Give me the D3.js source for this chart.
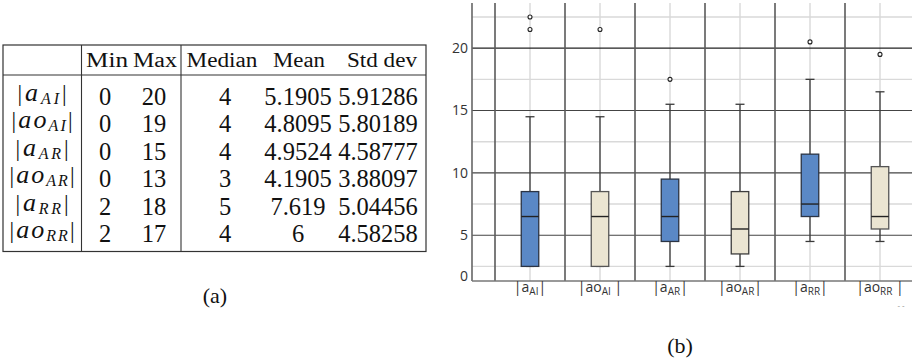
<!DOCTYPE html>
<html>
<head>
<meta charset="utf-8">
<script src="https://cdn.jsdelivr.net/npm/d3@7"></script>
<style>
  body { margin: 0; background: #fff; }
  svg { display: block; }
</style>
</head>
<body>
<svg id="fig" width="912" height="361"></svg>
<script>
// ---------- (a) summary table ----------
const rowMain = ["a", "ao", "a", "ao", "a", "ao"];
const rowSub = ["AI", "AI", "AR", "AR", "RR", "RR"];
const colHeaders = ["Min", "Max", "Median", "Mean", "Std dev"];
const minVals = ["0", "0", "0", "0", "2", "2"];
const maxVals = ["20", "19", "15", "13", "18", "17"];
const medianVals = ["4", "4", "4", "3", "5", "4"];
const meanVals = ["5.1905", "4.8095", "4.9524", "4.1905", "7.619", "6"];
const stdVals = ["5.91286", "5.80189", "4.58777", "3.88097", "5.04456", "4.58258"];

// ---------- (b) box plot ----------
const categories = ["aAI", "aoAI", "aAR", "aoAR", "aRR", "aoRR"];
const labelMain = ["a", "ao", "a", "ao", "a", "ao"];
const labelSub = ["AI", "AI", "AR", "AR", "RR", "RR"];
const labelTail = ["|", " |", "|", "|", "|", " |"];
const whiskerLow = [2.5, 2.5, 2.5, 2.5, 4.5, 4.5];
const q1 = [2.5, 2.5, 4.5, 3.5, 6.5, 5.5];
const median = [6.5, 6.5, 6.5, 5.5, 7.5, 6.5];
const q3 = [8.5, 8.5, 9.5, 8.5, 11.5, 10.5];
const whiskerHigh = [14.5, 14.5, 15.5, 15.5, 17.5, 16.5];
const outliers = [[22.5, 21.5], [21.5], [17.5], [], [20.5], [19.5]];
const yTickLabels = ["0", "5", "10", "15", "20"];
const majorGrid = [5, 10, 15, 20];
const minorGrid = [2.5, 7.5, 12.5, 17.5, 22.5];

const svg = d3.select("#fig");

// ===== table =====
const serif = "Liberation Serif, Times New Roman, serif";
const tbl = svg.append("g").attr("font-family", serif).attr("fill", "#111");
const T = { left: 3, right: 426, top: 45, headLine: 75, bottom: 251.5, sep1: 81.5, sep2: 181 };

const lineCol = "#333";
tbl.append("rect")
  .attr("x", T.left).attr("y", T.top)
  .attr("width", T.right - T.left).attr("height", T.bottom - T.top)
  .attr("fill", "none").attr("stroke", lineCol).attr("stroke-width", 1.2);
tbl.append("line").attr("x1", T.left).attr("x2", T.right).attr("y1", T.headLine).attr("y2", T.headLine)
  .attr("stroke", lineCol).attr("stroke-width", 1.1);
[T.sep1, T.sep2].forEach(x => tbl.append("line")
  .attr("x1", x).attr("x2", x).attr("y1", T.top).attr("y2", T.bottom)
  .attr("stroke", lineCol).attr("stroke-width", 1.1));

// header
const headX = [107, 155, 222, 299, 382];
const headW = [42, 44, 71, 52, 70];
tbl.selectAll("text.head").data(colHeaders).join("text")
  .attr("class", "head")
  .attr("x", (d, i) => headX[i]).attr("y", 66.5)
  .attr("text-anchor", "middle")
  .attr("font-size", 20.5)
  .attr("textLength", (d, i) => headW[i])
  .attr("lengthAdjust", "spacingAndGlyphs")
  .text(d => d);

// body cells
const rowY = d3.scalePoint().domain(d3.range(rowMain.length)).range([105, 242]);
const colX = [105, 154, 225, 298, 378];
const cols = [minVals, maxVals, medianVals, meanVals, stdVals];
cols.forEach((vals, c) => {
  tbl.selectAll("text.c" + c).data(vals).join("text")
    .attr("class", "c" + c)
    .attr("x", colX[c]).attr("y", (d, i) => rowY(i))
    .attr("text-anchor", "middle")
    .attr("font-size", 24.5)
    .text(d => d);
});

// row labels |a_AI| etc.
const rowLabelW = [49, 61, 53, 65, 53, 65];
rowMain.forEach((m, i) => {
  const t = tbl.append("text")
    .attr("x", 42).attr("y", rowY(i) - 4)
    .attr("text-anchor", "middle")
    .attr("textLength", rowLabelW[i])
    .attr("lengthAdjust", "spacing");
  t.append("tspan").attr("font-size", 23).text("|");
  t.append("tspan").attr("font-size", 26).attr("font-style", "italic").text(m);
  t.append("tspan").attr("font-size", 16).attr("font-style", "italic").attr("dy", 3).text(rowSub[i]);
  t.append("tspan").attr("font-size", 23).attr("dy", -3).text("|");
});

tbl.append("text").attr("x", 215).attr("y", 302.5)
  .attr("text-anchor", "middle").attr("font-size", 22).text("(a)");

// ===== box plot =====
const sans = "Open Sans, Noto Sans, sans-serif";
const plot = { left: 472, right: 915, top: 3, bottom: 281 };
const yFloor = 1.33;
const y = d3.scaleLinear().domain([yFloor, 23.62]).range([plot.bottom, plot.top]);
const x = d3.scaleBand().domain(categories).range([495, 915]).paddingInner(0).paddingOuter(0);

const g = svg.append("g");

// light minor grid lines
g.selectAll("line.minor").data(minorGrid).join("line")
  .attr("x1", plot.left).attr("x2", plot.right)
  .attr("y1", d => y(d)).attr("y2", d => y(d))
  .attr("stroke", "#d9d9d9").attr("stroke-width", 1.4);
// light vertical lines through category centres
g.selectAll("line.vc").data(categories).join("line")
  .attr("x1", d => x(d) + x.bandwidth() / 2).attr("x2", d => x(d) + x.bandwidth() / 2)
  .attr("y1", plot.top).attr("y2", plot.bottom)
  .attr("stroke", "#d9d9d9").attr("stroke-width", 1.4);
// major horizontal grid lines
g.selectAll("line.major").data(majorGrid).join("line")
  .attr("x1", plot.left).attr("x2", plot.right)
  .attr("y1", d => y(d)).attr("y2", d => y(d))
  .attr("stroke", d => d >= 20 ? "#222" : "#444").attr("stroke-width", 1.2);
// dark vertical separators at band edges
g.selectAll("line.vs").data(categories).join("line")
  .attr("x1", d => x(d)).attr("x2", d => x(d))
  .attr("y1", plot.top).attr("y2", plot.bottom)
  .attr("stroke", "#5a5a5a").attr("stroke-width", 1.6);

// axes
const yAxis = d3.axisLeft(y)
  .tickValues([yFloor, ...majorGrid])
  .tickFormat((d, i) => yTickLabels[i])
  .tickSize(0).tickPadding(4);
const ya = g.append("g").attr("transform", `translate(${plot.left},0)`).call(yAxis);
ya.select(".domain").remove();
ya.selectAll("text").attr("font-family", sans).attr("font-size", 14).attr("fill", "#333");
ya.selectAll(".tick").filter(d => d === yFloor).select("text").attr("dy", "-0.05em");

g.append("line").attr("x1", plot.left).attr("x2", plot.left)
  .attr("y1", plot.top).attr("y2", plot.bottom)
  .attr("stroke", "#666").attr("stroke-width", 1.6);
g.append("line").attr("x1", plot.left).attr("x2", plot.right)
  .attr("y1", plot.bottom).attr("y2", plot.bottom)
  .attr("stroke", "#777").attr("stroke-width", 1.6);

// boxes
const boxW = 17.5, capW = 9;
const fills = ["#5a88c6", "#ebe5d2", "#5a88c6", "#ebe5d2", "#5a88c6", "#ebe5d2"];
const strokes = ["#2b3444", "#555", "#2b3444", "#3d3d3d", "#2b3444", "#555"];
categories.forEach((c, i) => {
  const cx = x(c) + x.bandwidth() / 2;
  const bg = g.append("g");
  // whiskers
  bg.append("line").attr("x1", cx).attr("x2", cx).attr("y1", y(q3[i])).attr("y2", y(whiskerHigh[i]))
    .attr("stroke", "#3a3a3a").attr("stroke-width", 1.3);
  bg.append("line").attr("x1", cx).attr("x2", cx).attr("y1", y(q1[i])).attr("y2", y(whiskerLow[i]))
    .attr("stroke", "#3a3a3a").attr("stroke-width", 1.3);
  [whiskerHigh[i], whiskerLow[i]].forEach(v => bg.append("line")
    .attr("x1", cx - capW / 2).attr("x2", cx + capW / 2).attr("y1", y(v)).attr("y2", y(v))
    .attr("stroke", "#3a3a3a").attr("stroke-width", 1.3));
  bg.append("rect")
    .attr("x", cx - boxW / 2).attr("width", boxW)
    .attr("y", y(q3[i])).attr("height", y(q1[i]) - y(q3[i]))
    .attr("fill", fills[i]).attr("stroke", strokes[i]).attr("stroke-width", 1.3);
  bg.append("line").attr("x1", cx - boxW / 2).attr("x2", cx + boxW / 2)
    .attr("y1", y(median[i])).attr("y2", y(median[i]))
    .attr("stroke", "#222").attr("stroke-width", 1.4);
  bg.selectAll("circle").data(outliers[i]).join("circle")
    .attr("cx", cx).attr("cy", d => y(d)).attr("r", 2)
    .attr("fill", "#fff").attr("stroke", "#222").attr("stroke-width", 1.1);
});

// category labels
categories.forEach((c, i) => {
  const cx = x(c) + x.bandwidth() / 2;
  const t = g.append("text")
    .attr("x", cx).attr("y", 292)
    .attr("text-anchor", "middle")
    .attr("font-family", sans).attr("fill", "#333");
  t.append("tspan").attr("font-size", 14).text("|");
  t.append("tspan").attr("font-size", 14).text(labelMain[i]);
  t.append("tspan").attr("font-size", 10).attr("dy", 2.5).text(labelSub[i]);
  t.append("tspan").attr("font-size", 14).attr("dy", -2.5).text(labelTail[i]);
});
g.append("text").attr("x", 901).attr("y", 308).attr("text-anchor", "middle")
  .attr("font-family", sans).attr("font-size", 8).attr("fill", "#888").text("- -");

g.append("text").attr("x", 680).attr("y", 353)
  .attr("text-anchor", "middle").attr("font-family", serif).attr("font-size", 22).attr("fill", "#111")
  .text("(b)");
</script>
</body>
</html>
